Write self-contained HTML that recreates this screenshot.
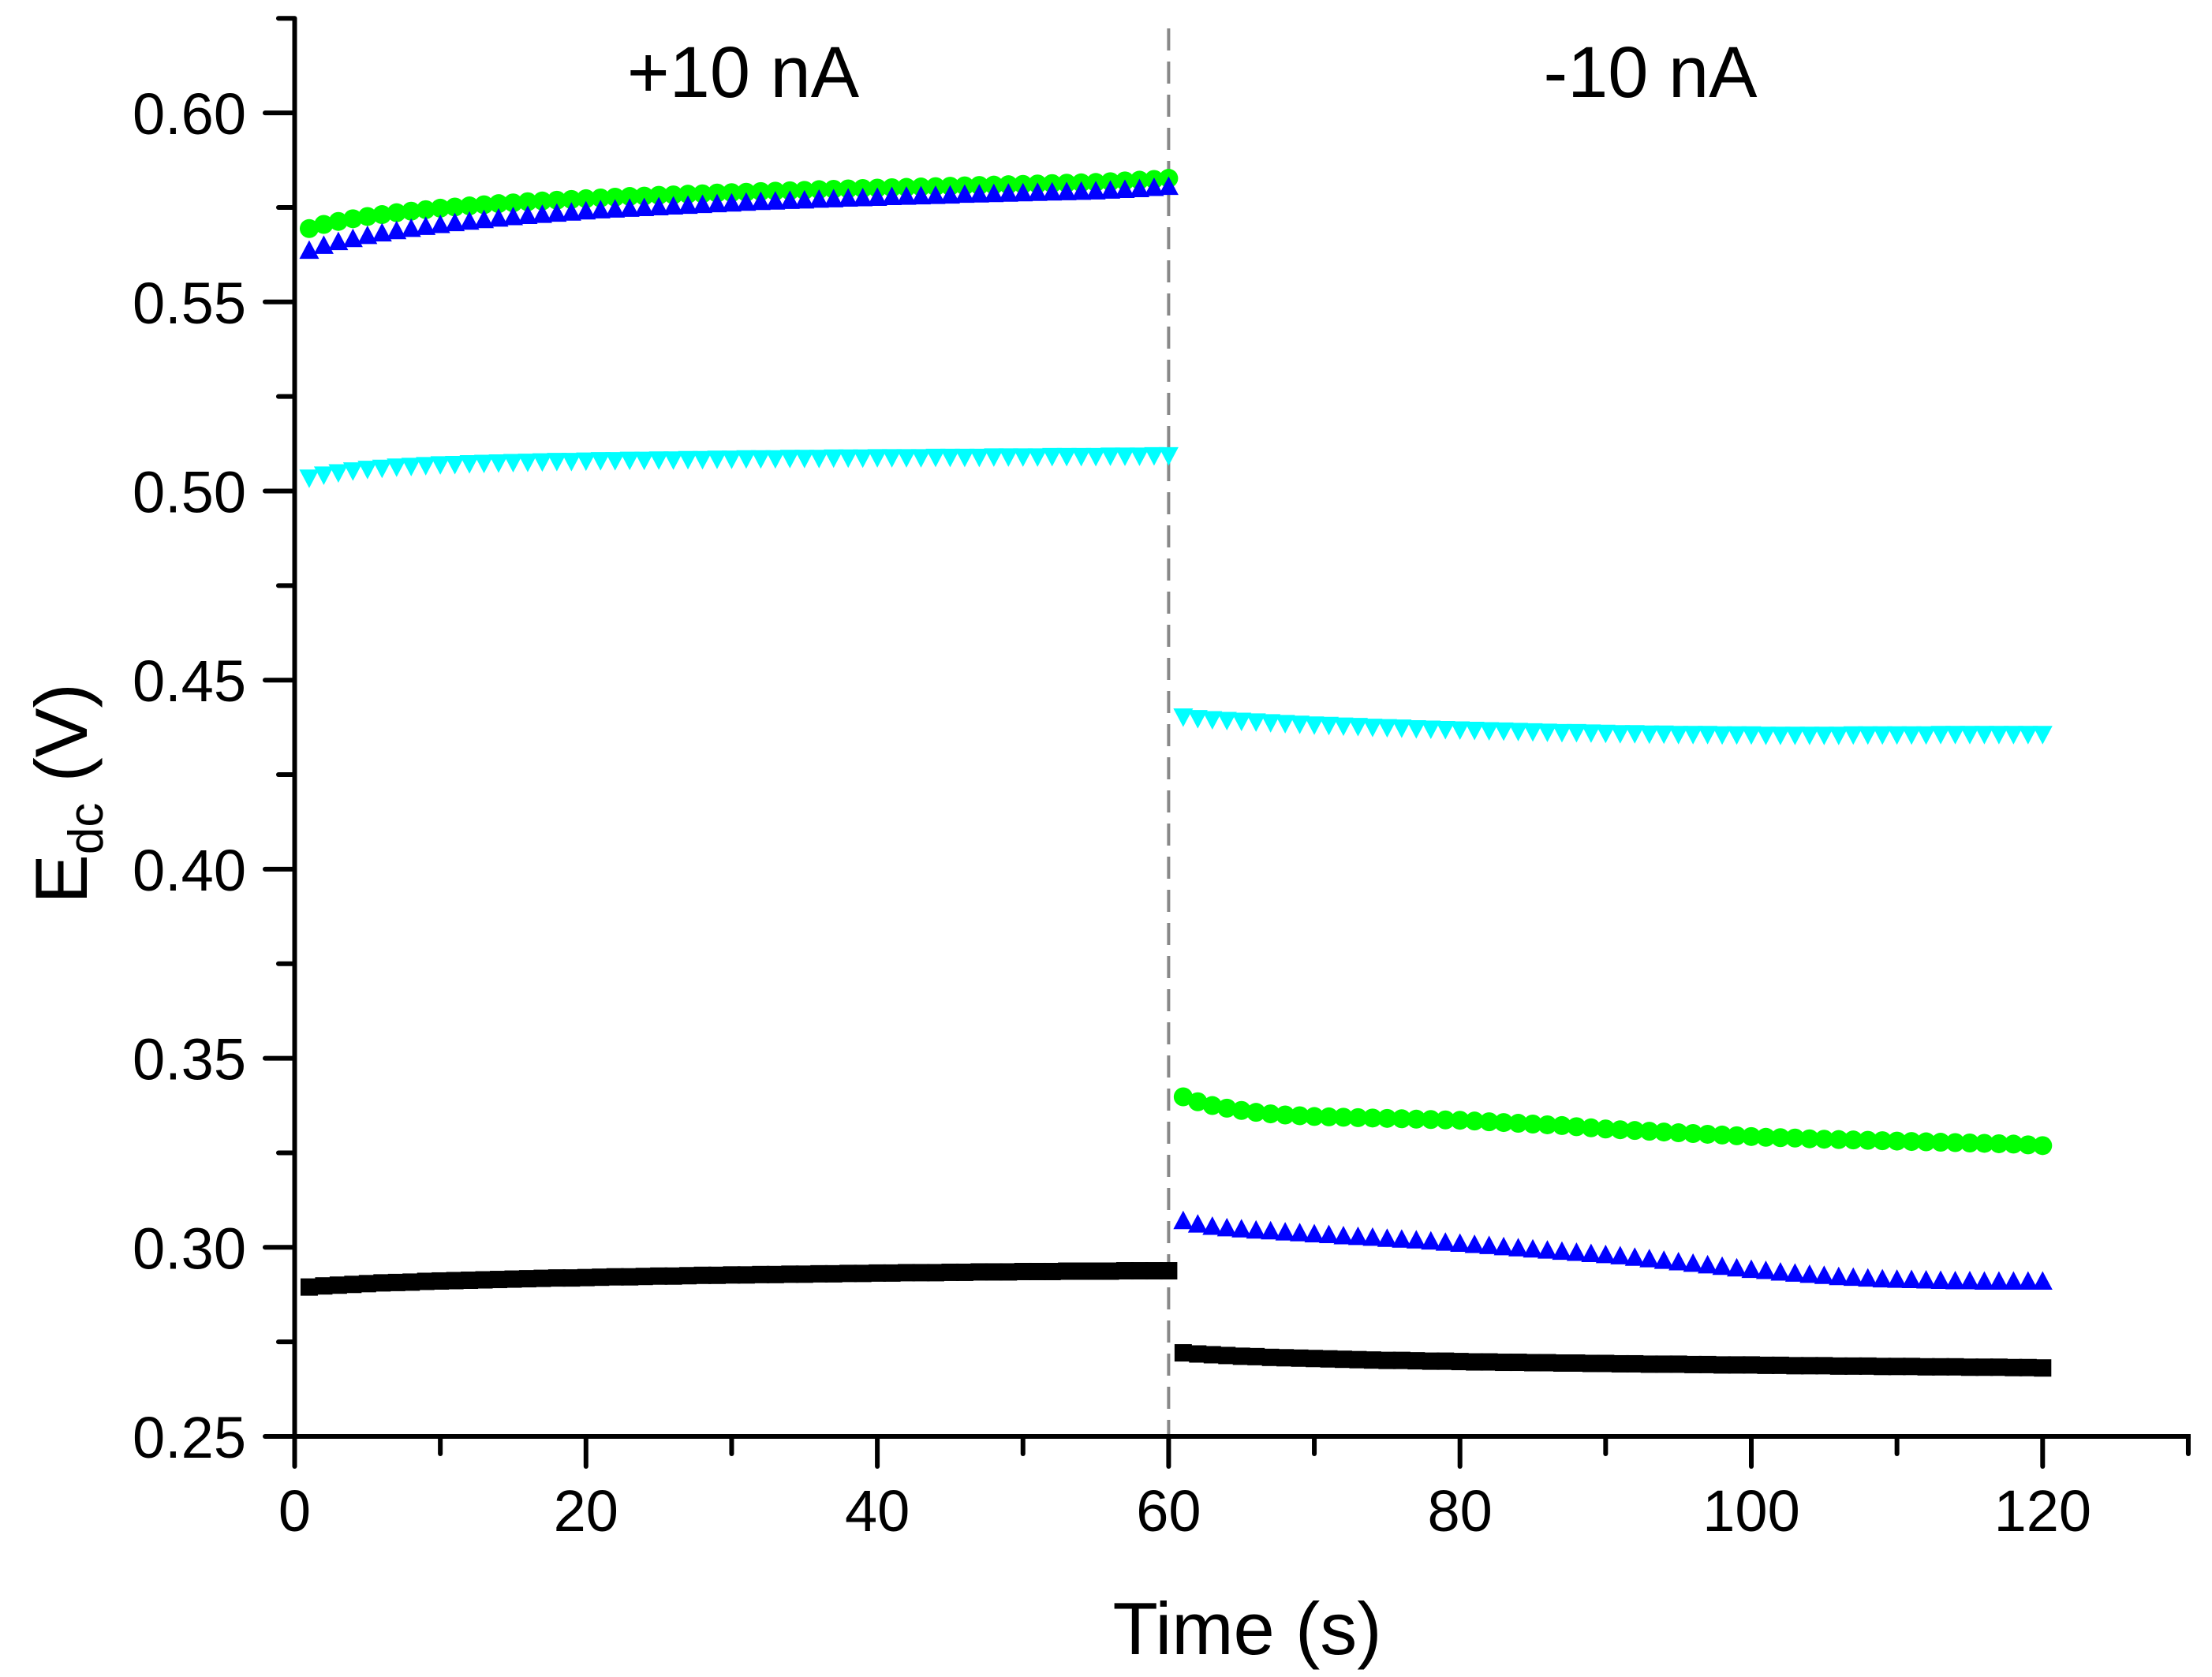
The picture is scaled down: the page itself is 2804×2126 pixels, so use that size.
<!DOCTYPE html>
<html><head><meta charset="utf-8"><style>
html,body{margin:0;padding:0;background:#fff;}
svg{display:block;font-family:"Liberation Sans",Arial,sans-serif;}
</style></head><body>
<svg id="chart" width="2804" height="2126" viewBox="0 0 2804 2126" xmlns="http://www.w3.org/2000/svg">
<g id="axes"></g>
<g id="marks"></g>
<text x="1581" y="2097" font-size="94" text-anchor="middle">Time (s)</text>
<text transform="translate(110,1006) rotate(-90)" font-size="94" text-anchor="middle">E<tspan font-size="62" dy="20">dc</tspan><tspan dy="-20"> (V)</tspan></text>
<text x="942" y="123" font-size="92" text-anchor="middle">+10 nA</text>
<text x="2092" y="123" font-size="92" text-anchor="middle">-10 nA</text>
</svg>
<script>
const xTickLabels=["0","20","40","60","80","100","120"];
const yTickLabels=["0.25","0.30","0.35","0.40","0.45","0.50","0.55","0.60"];
const blackA=[.2895,.2898,.2900,.2902,.2904,.2906,.2907,.2908,.2910,.2911,.2912,.2913,.2914,.2915,.2916,.2917,.2918,.2919,.2919,.2920,.2921,.2922,.2922,.2923,.2924,.2924,.2925,.2926,.2926,.2927,.2927,.2928,.2928,.2929,.2929,.2930,.2930,.2931,.2931,.2932,.2932,.2933,.2933,.2933,.2934,.2934,.2935,.2935,.2935,.2936,.2936,.2936,.2937,.2937,.2937,.2937,.2938,.2938,.2938,.2938];
const blackB=[.2721,.2718,.2716,.2714,.2712,.2711,.2709,.2708,.2707,.2706,.2705,.2704,.2703,.2702,.2701,.2701,.2700,.2699,.2699,.2698,.2697,.2697,.2696,.2696,.2695,.2695,.2694,.2694,.2693,.2693,.2692,.2692,.2691,.2691,.2691,.2690,.2690,.2689,.2689,.2689,.2688,.2688,.2687,.2687,.2687,.2686,.2686,.2686,.2685,.2685,.2685,.2684,.2684,.2684,.2683,.2683,.2683,.2682,.2682,.2681];
const greenA=[.5694,.5705,.5713,.5720,.5726,.5731,.5736,.5740,.5744,.5748,.5751,.5754,.5757,.5760,.5762,.5765,.5767,.5769,.5771,.5773,.5775,.5777,.5779,.5780,.5782,.5783,.5785,.5786,.5788,.5789,.5790,.5792,.5793,.5794,.5795,.5797,.5798,.5799,.5800,.5801,.5802,.5803,.5804,.5805,.5806,.5807,.5808,.5809,.5810,.5811,.5812,.5813,.5814,.5815,.5816,.5818,.5820,.5822,.5824,.5827];
const greenB=[.3398,.3385,.3375,.3368,.3362,.3357,.3353,.3350,.3348,.3346,.3345,.3344,.3343,.3342,.3341,.3340,.3339,.3338,.3337,.3336,.3334,.3332,.3330,.3328,.3326,.3324,.3322,.3319,.3316,.3313,.3311,.3309,.3307,.3305,.3303,.3301,.3299,.3297,.3295,.3293,.3291,.3290,.3289,.3287,.3286,.3285,.3284,.3283,.3282,.3281,.3280,.3279,.3278,.3277,.3276,.3275,.3274,.3273,.3271,.3269];
const blueA=[.5637,.5650,.5660,.5668,.5676,.5683,.5689,.5695,.5700,.5705,.5710,.5714,.5718,.5722,.5726,.5729,.5732,.5735,.5738,.5741,.5744,.5746,.5748,.5750,.5752,.5754,.5756,.5758,.5760,.5762,.5764,.5766,.5767,.5769,.5770,.5772,.5773,.5775,.5776,.5777,.5779,.5780,.5781,.5782,.5783,.5785,.5786,.5787,.5788,.5789,.5790,.5791,.5792,.5793,.5794,.5796,.5798,.5800,.5803,.5806];
const blueB=[.3071,.3062,.3056,.3052,.3049,.3046,.3044,.3041,.3039,.3036,.3034,.3031,.3029,.3027,.3024,.3022,.3020,.3017,.3014,.3011,.3008,.3005,.3002,.2999,.2996,.2993,.2990,.2987,.2984,.2981,.2978,.2974,.2970,.2966,.2962,.2958,.2954,.2950,.2946,.2942,.2939,.2935,.2932,.2929,.2926,.2923,.2921,.2919,.2917,.2916,.2915,.2914,.2913,.2912,.2912,.2911,.2911,.2911,.2911,.2911];
const cyanA=[.5034,.5042,.5048,.5053,.5057,.5060,.5063,.5065,.5067,.5069,.5070,.5072,.5073,.5074,.5075,.5076,.5077,.5078,.5078,.5079,.5080,.5080,.5081,.5081,.5082,.5082,.5083,.5083,.5084,.5084,.5085,.5085,.5085,.5086,.5086,.5086,.5087,.5087,.5087,.5088,.5088,.5088,.5088,.5089,.5089,.5089,.5089,.5090,.5090,.5090,.5090,.5091,.5091,.5091,.5091,.5092,.5092,.5092,.5093,.5093];
const cyanB=[.4402,.4398,.4395,.4393,.4391,.4389,.4387,.4385,.4383,.4381,.4380,.4378,.4377,.4375,.4374,.4373,.4371,.4370,.4369,.4368,.4367,.4366,.4365,.4364,.4363,.4362,.4361,.4361,.4360,.4359,.4358,.4358,.4357,.4357,.4356,.4356,.4356,.4355,.4355,.4355,.4354,.4354,.4354,.4354,.4354,.4354,.4355,.4355,.4355,.4355,.4355,.4355,.4356,.4356,.4356,.4356,.4356,.4356,.4356,.4356];

const NS="http://www.w3.org/2000/svg";
const X=t=>373.5+(t)*18.465;
const Y=v=>1821-(v-0.25)/0.05*239.7;
const axes=document.getElementById('axes'), marks=document.getElementById('marks');
function mk(tag,attrs,parent){const e=document.createElementNS(NS,tag);for(const k in attrs)e.setAttribute(k,attrs[k]);parent.appendChild(e);return e;}

let dv=mk('line',{x1:X(60),x2:X(60),y1:36,y2:1821,stroke:'#888',"stroke-width":4,"stroke-dasharray":"28,14"},axes);


let ya=mk('line',{x1:373.5,x2:373.5,y1:Y(0.625),y2:1824,stroke:'#000',"stroke-width":6},axes);


let xa=mk('line',{x1:370,x2:X(130)+3,y1:1821,y2:1821,stroke:'#000',"stroke-width":6},axes);


for(let t=0;t<=130;t+=10){const maj=t%20===0;
 let tk=mk('line',{x1:X(t),x2:X(t),y1:1821,y2:maj?1859:1843,stroke:'#000',"stroke-width":6,"stroke-linecap":"round"},axes);
 
 }
xTickLabels.forEach((l,i)=>{let tx=mk('text',{x:X(i*20),y:1941,"font-size":74,"text-anchor":"middle"},axes);tx.textContent=l;
 
 });
for(let k=0;k<=15;k++){const v=0.25+k*0.025;const maj=k%2===0;
 let tk=mk('line',{x1:maj?336:353,x2:373.5,y1:Y(v),y2:Y(v),stroke:'#000',"stroke-width":6,"stroke-linecap":"round"},axes);
 
 }
yTickLabels.forEach((l,i)=>{let tx=mk('text',{x:312,y:Y(0.25+i*0.05)+27,"font-size":74,"text-anchor":"end"},axes);tx.textContent=l;
 
 });

function series(arr,t0,shape,color,name){
 const g=mk('g',{},marks);
 
 
 arr.forEach((v,i)=>{const cx=X(t0+i),cy=Y(v);let e;
  if(shape==='sq') e=mk('rect',{x:cx-11,y:cy-11,width:22,height:22,fill:color},g);
  else if(shape==='ci') e=mk('circle',{cx:cx,cy:cy,r:12,fill:color},g);
  else if(shape==='up') e=mk('polygon',{points:`${cx-12.5},${cy+11} ${cx+12.5},${cy+11} ${cx},${cy-12.5}`,fill:color},g);
  else e=mk('polygon',{points:`${cx-12.5},${cy-11} ${cx+12.5},${cy-11} ${cx},${cy+12.5}`,fill:color},g);
  
  });
}
series(blackA,1,'sq','#000','series-black-positive');
series(blackB,61,'sq','#000','series-black-negative');
series(cyanA,1,'dn','#00ffff','series-cyan-positive');
series(cyanB,61,'dn','#00ffff','series-cyan-negative');
series(greenA,1,'ci','#00ff00','series-green-positive');
series(greenB,61,'ci','#00ff00','series-green-negative');
series(blueA,1,'up','#0000ff','series-blue-positive');
series(blueB,61,'up','#0000ff','series-blue-negative');
</script>
</body></html>
